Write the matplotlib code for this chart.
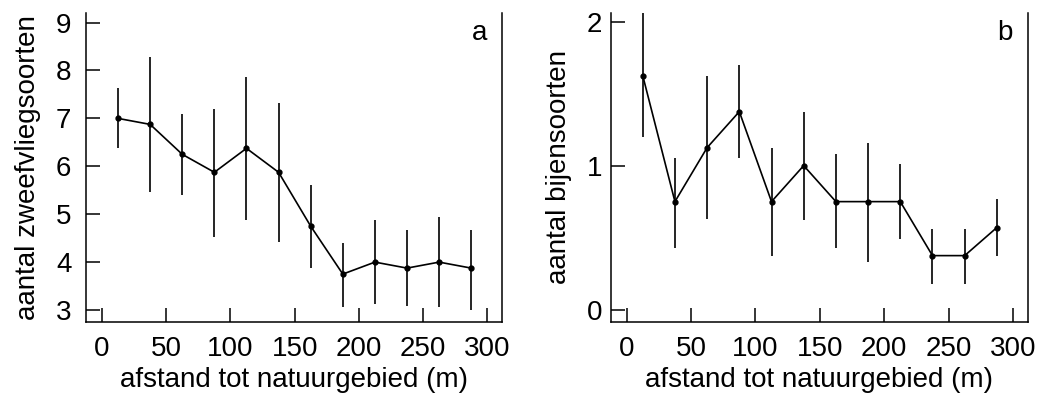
import matplotlib
matplotlib.use("Agg")
import matplotlib.pyplot as plt
import numpy as np

plt.rcParams['font.family'] = ['Liberation Sans', 'DejaVu Sans']

# afstand (m), midden van elke klasse
afstand = [12.5, 37.5, 62.5, 87.5, 112.5, 137.5, 162.5, 187.5, 212.5, 237.5, 262.5, 287.5]

# a: zweefvliegsoorten
zweef = [7.0, 6.875, 6.25, 5.875, 6.375, 5.875, 4.75, 3.75, 4.0, 3.875, 4.0, 3.875]
zweef_hi = [7.63, 8.28, 7.09, 7.20, 7.87, 7.32, 5.61, 4.39, 4.87, 4.67, 4.95, 4.67]
zweef_lo = [6.38, 5.47, 5.40, 4.53, 4.88, 4.41, 3.88, 3.07, 3.13, 3.08, 3.06, 3.01]

# b: bijensoorten
bijen = [1.625, 0.75, 1.125, 1.375, 0.75, 1.0, 0.75, 0.75, 0.75, 0.375, 0.375, 0.57]
bijen_hi = [2.2, 1.05, 1.62, 1.70, 1.12, 1.37, 1.08, 1.16, 1.01, 0.56, 0.56, 0.77]
bijen_lo = [1.20, 0.43, 0.63, 1.05, 0.37, 0.62, 0.43, 0.33, 0.49, 0.18, 0.18, 0.37]

fig = plt.figure(figsize=(10.43, 4.0), dpi=100)
ax1 = fig.add_axes([0.0825, 0.195, 0.399, 0.7725])
ax2 = fig.add_axes([0.5855, 0.195, 0.400, 0.7725])

FS = 20


def draw(ax, y, lo, hi, ylim, yticks, ylabel, letter, ypad):
    y = np.array(y)
    err = [y - np.array(lo), np.array(hi) - y]
    ax.errorbar(afstand, y, yerr=err, color='black', lw=1.2, elinewidth=1.2,
                capsize=0, marker='o', ms=3.5)
    ax.set_xlim(-12.4, 311.6)
    ax.set_ylim(*ylim)
    ax.set_xticks(range(0, 301, 50))
    ax.set_yticks(yticks)
    ax.tick_params(direction='in', length=10, width=1.1, labelsize=FS)
    ax.tick_params(axis='y', pad=ypad)
    ax.tick_params(axis='x', pad=10)
    ax.spines['top'].set_visible(False)
    for s in ['left', 'right', 'bottom']:
        ax.spines[s].set_linewidth(1.1)
    ax.set_xlabel('afstand tot natuurgebied (m)', fontsize=FS, labelpad=4)
    ax.set_ylabel(ylabel, fontsize=FS, labelpad=11)
    ax.text(0.945, 0.935, letter, transform=ax.transAxes, fontsize=FS,
            ha='center', va='center')


draw(ax1, zweef, zweef_lo, zweef_hi, (2.75, 9.2), range(3, 10),
     'aantal zweefvliegsoorten', 'a', 10.5)
draw(ax2, bijen, bijen_lo, bijen_hi, (-0.086, 2.06), [0, 1, 2],
     'aantal bijensoorten', 'b', 6)

fig.savefig('out.png', dpi=100)
